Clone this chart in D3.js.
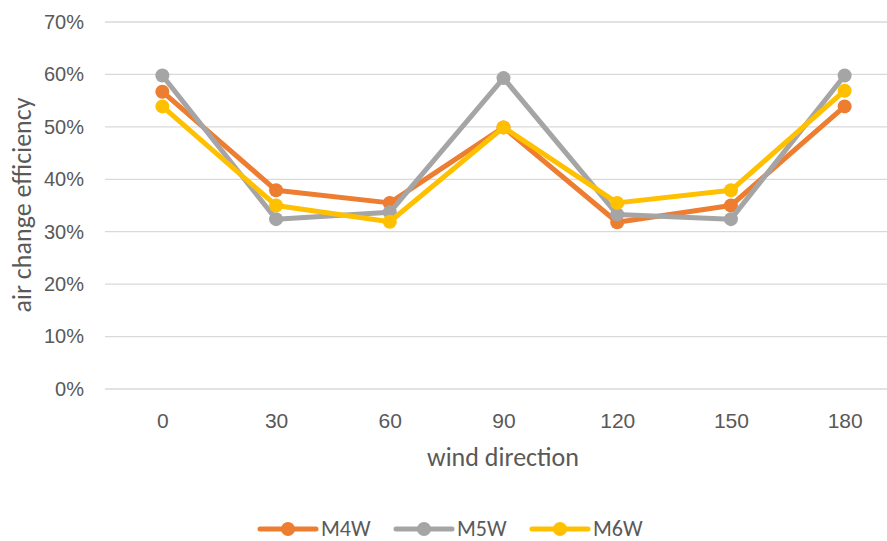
<!DOCTYPE html>
<html><head><meta charset="utf-8">
<script src="https://cdn.jsdelivr.net/npm/d3@7"></script>
<style>body{margin:0;background:#fff;}svg{display:block;font-family:Carlito,Calibri,Lato,"Liberation Sans",sans-serif;}</style>
</head><body><svg id="c" width="887" height="541"></svg>
<script>
const categories = ["0","30","60","90","120","150","180"];
const m4w = [0.567, 0.379, 0.355, 0.499, 0.318, 0.350, 0.539];
const m5w = [0.598, 0.324, 0.337, 0.593, 0.333, 0.324, 0.598];
const m6w = [0.539, 0.350, 0.319, 0.499, 0.355, 0.379, 0.569];
const seriesNames = ["M4W","M5W","M6W"];
const seriesColors = ["#ED7D31","#A5A5A5","#FFC000"];
const yTicks = [0,0.1,0.2,0.3,0.4,0.5,0.6,0.7];

const svg = d3.select("#c");
const x = d3.scalePoint().domain(categories).range([105.5, 901.5]).padding(0.5);
const y = d3.scaleLinear().domain([0,0.7]).range([389, 22]);
const txt = "#595959";

// gridlines
svg.append("g").selectAll("line").data(yTicks).join("line")
  .attr("x1",105).attr("x2",887).attr("y1",d=>y(d)).attr("y2",d=>y(d))
  .attr("stroke","#D9D9D9").attr("stroke-width",1.3);

// y axis labels
const yAxis = d3.axisLeft(y).tickValues(yTicks).tickFormat(d3.format(".0%")).tickSize(0).tickPadding(0);
const ya = svg.append("g").attr("transform","translate(84,0)").call(yAxis);
ya.select(".domain").remove();
ya.selectAll("text").attr("fill",txt).style("font-size","20px").style("font-family","inherit");

// x axis labels
const xAxis = d3.axisBottom(x).tickSize(0).tickPadding(0);
const xa = svg.append("g").attr("transform","translate(0,413)").call(xAxis);
xa.select(".domain").remove();
xa.selectAll("text").attr("fill",txt).style("font-size","21px").style("font-family","inherit");

// axis titles
svg.append("text").attr("x",503).attr("y",466).attr("text-anchor","middle")
  .attr("fill",txt).style("font-size","26px").text("wind direction");
svg.append("text").attr("transform","translate(31,205) rotate(-90)").attr("text-anchor","middle")
  .attr("fill",txt).style("font-size","26px").text("air change efficiency");

// series
const data = [m4w,m5w,m6w];
const line = d3.line().x((d,i)=>x(categories[i])).y(d=>y(d));
data.forEach((vals,k)=>{
  const g = svg.append("g");
  g.append("path").datum(vals).attr("d",line).attr("fill","none")
    .attr("stroke",seriesColors[k]).attr("stroke-width",5).attr("stroke-linejoin","round").attr("stroke-linecap","round");
  g.selectAll("circle").data(vals).join("circle")
    .attr("cx",(d,i)=>x(categories[i])).attr("cy",d=>y(d)).attr("r",7)
    .attr("fill",seriesColors[k]);
});

// legend
const legX = [260, 396, 532];
seriesNames.forEach((n,k)=>{
  const g = svg.append("g").attr("transform",`translate(${legX[k]},529)`);
  g.append("line").attr("x1",0).attr("x2",56).attr("stroke",seriesColors[k]).attr("stroke-width",5).attr("stroke-linecap","round");
  g.append("circle").attr("cx",28).attr("r",7).attr("fill",seriesColors[k]);
  g.append("text").attr("x",61).attr("y",7).attr("fill",txt).style("font-size","22px").text(n);
});
</script></body></html>
